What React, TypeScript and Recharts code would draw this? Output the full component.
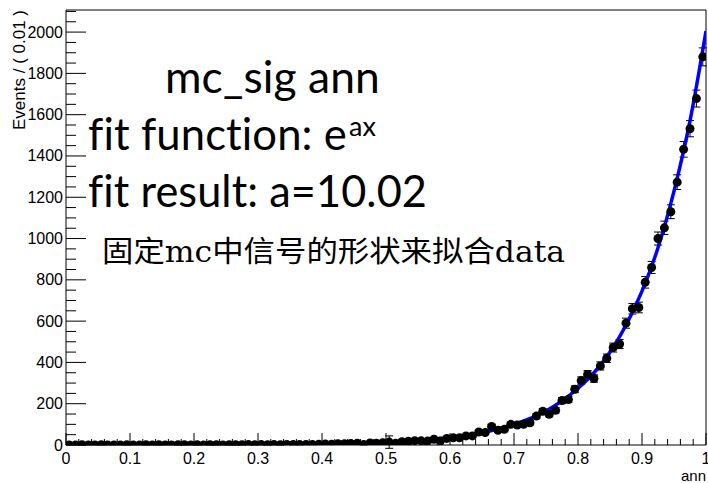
import React from "react";
import { ComposedChart, Scatter, Line, XAxis, YAxis, ErrorBar, ReferenceLine } from "recharts";

const W = 708;
const H = 483;
const Y_MAX = 2107;

// bins of width 0.01 on ann
const binCenters = [
  0.005, 0.015, 0.025, 0.035, 0.045, 0.055, 0.065, 0.075, 0.085, 0.095,
  0.105, 0.115, 0.125, 0.135, 0.145, 0.155, 0.165, 0.175, 0.185, 0.195,
  0.205, 0.215, 0.225, 0.235, 0.245, 0.255, 0.265, 0.275, 0.285, 0.295,
  0.305, 0.315, 0.325, 0.335, 0.345, 0.355, 0.365, 0.375, 0.385, 0.395,
  0.405, 0.415, 0.425, 0.435, 0.445, 0.455, 0.465, 0.475, 0.485, 0.495,
  0.505, 0.515, 0.525, 0.535, 0.545, 0.555, 0.565, 0.575, 0.585, 0.595,
  0.605, 0.615, 0.625, 0.635, 0.645, 0.655, 0.665, 0.675, 0.685, 0.695,
  0.705, 0.715, 0.725, 0.735, 0.745, 0.755, 0.765, 0.775, 0.785, 0.795,
  0.805, 0.815, 0.825, 0.835, 0.845, 0.855, 0.865, 0.875, 0.885, 0.895,
  0.905, 0.915, 0.925, 0.935, 0.945, 0.955, 0.965, 0.975, 0.985, 0.995,
];
const binHalfWidth = 0.005;

const counts = [
  0, 0, 1, 0, 0, 1, 0, 0, 0, 1,
  0, 0, 1, 0, 1, 0, 0, 1, 1, 0,
  1, 0, 1, 1, 0, 1, 1, 1, 2, 1,
  2, 1, 2, 1, 3, 2, 2, 3, 3, 4,
  5, 4, 6, 6, 7, 8, 2, 10, 9, 11,
  14, 8, 16, 18, 21, 20, 19, 28, 19, 32,
  35, 35, 44, 44, 63, 60, 90, 71, 76, 100,
  97, 100, 108, 140, 163, 149, 168, 215, 220, 270,
  312, 342, 322, 383, 420, 472, 489, 590, 660, 666,
  788, 860, 1000, 1052, 1130, 1273, 1432, 1532, 1678, 1880,
];

const errors = [
  0, 0, 1, 0, 0, 1, 0, 0, 0, 1,
  0, 0, 1, 0, 1, 0, 0, 1, 1, 0,
  1, 0, 1, 1, 0, 1, 1, 1, 1.4, 1,
  1.4, 1, 1.4, 1, 1.7, 1.4, 1.4, 1.7, 1.7, 2,
  2.2, 2, 2.4, 2.4, 2.6, 2.8, 1.4, 3.2, 3, 3.3,
  30, 2.8, 4, 4.2, 4.6, 4.5, 4.4, 5.3, 4.4, 5.7,
  5.9, 5.9, 6.6, 6.6, 7.9, 7.7, 9.5, 8.4, 8.7, 10,
  9.8, 10, 10.4, 11.8, 12.8, 12.2, 13, 14.7, 14.8, 16.4,
  17.7, 18.5, 17.9, 19.6, 20.5, 21.7, 22.1, 24.3, 25.7, 25.8,
  28, 29.3, 31.6, 32.4, 33.6, 35.7, 37.8, 39.1, 41, 43.4,
];

// fitted curve
const fitX = [0, 0.1, 0.2, 0.3, 0.4, 0.45, 0.5, 0.55, 0.6, 0.65, 0.7, 0.75, 0.8, 0.825, 0.85, 0.875, 0.9, 0.925, 0.95, 0.975, 1.0];
const fitY = [0.1, 0.2, 0.7, 1.8, 5, 8, 13, 22, 36, 60, 100, 165, 275, 350, 450, 580, 745, 955, 1230, 1570, 2005];

const yTicks = [
  0, 50, 100, 150, 200, 250, 300, 350, 400, 450, 500, 550, 600, 650, 700, 750,
  800, 850, 900, 950, 1000, 1050, 1100, 1150, 1200, 1250, 1300, 1350, 1400, 1450,
  1500, 1550, 1600, 1650, 1700, 1750, 1800, 1850, 1900, 1950, 2000, 2050, 2100,
];
const xTicks = [
  0, 0.02, 0.04, 0.06, 0.08, 0.1, 0.12, 0.14, 0.16, 0.18, 0.2, 0.22, 0.24, 0.26, 0.28,
  0.3, 0.32, 0.34, 0.36, 0.38, 0.4, 0.42, 0.44, 0.46, 0.48, 0.5, 0.52, 0.54, 0.56, 0.58,
  0.6, 0.62, 0.64, 0.66, 0.68, 0.7, 0.72, 0.74, 0.76, 0.78, 0.8, 0.82, 0.84, 0.86, 0.88,
  0.9, 0.92, 0.94, 0.96, 0.98, 1,
];

const points = binCenters.map((x, i) => ({ x, y: counts[i], err: errors[i], xerr: binHalfWidth }));
const fitCurve = fitX.map((x, i) => ({ x, y: fitY[i] }));

const labelFont = "'Liberation Sans', Arial, sans-serif";
const bigFont = "Lato, 'Open Sans', sans-serif";
// no "fi" ligature, like the original slide text
const noLig = { fontVariantLigatures: "none" as const, fontFeatureSettings: "'liga' 0", letterSpacing: "0.1px" };
const Y_MARGIN = 3;

function YTick({ x, y, payload }: any) {
  const v = payload.value;
  const major = v % 200 === 0;
  const ax = x + Y_MARGIN;
  return (
    <g>
      <line x1={ax} x2={ax + (major ? 20 : 10)} y1={y} y2={y} stroke="#000" />
      {major && (
        <text x={x} y={y} textAnchor="end" dominantBaseline="central" fontSize={16} fontFamily={labelFont} fill="#000">
          {v}
        </text>
      )}
    </g>
  );
}

function XTick({ x, y, payload }: any) {
  const v = payload.value;
  const major = Math.abs(v * 10 - Math.round(v * 10)) < 1e-6;
  const label = v === 0 ? "0" : v === 1 ? "1" : v.toFixed(1);
  return (
    <g>
      <line x1={x} x2={x} y1={y} y2={y - (major ? 12 : 6)} stroke="#000" />
      {major && (
        <text x={x} y={y + 19} textAnchor="middle" fontSize={16} fontFamily={labelFont} fill="#000">
          {label}
        </text>
      )}
    </g>
  );
}

const Dot = ({ cx, cy }: any) => <circle cx={cx} cy={cy} r={4.5} fill="#000" />;

export default function App() {
  return (
    <div style={{ position: "absolute", left: 0, top: 0, width: W, height: H, background: "#fff" }}>
      <ComposedChart width={W} height={H} margin={{ top: 10, right: 2, bottom: 0, left: 0 }}>
        <XAxis
          type="number"
          dataKey="x"
          domain={[0, 1]}
          ticks={xTicks}
          interval={0}
          tickSize={0}
          tickMargin={0}
          height={38}
          axisLine={{ stroke: "#000" }}
          tick={<XTick />}
          allowDataOverflow
        />
        <YAxis
          type="number"
          domain={[0, Y_MAX]}
          ticks={yTicks}
          interval={0}
          tickSize={0}
          tickMargin={Y_MARGIN}
          width={66}
          axisLine={{ stroke: "#000" }}
          tick={<YTick />}
          allowDataOverflow
        />
        <ReferenceLine y={Y_MAX} stroke="#000" />
        <ReferenceLine x={1} stroke="#000" />
        <Scatter data={points} dataKey="y" shape={<Dot />} isAnimationActive={false}>
          <ErrorBar dataKey="err" direction="y" width={4} stroke="#000" strokeWidth={1} isAnimationActive={false} />
          <ErrorBar dataKey="xerr" direction="x" width={0} stroke="#000" strokeWidth={1} isAnimationActive={false} />
        </Scatter>
        <Line
          data={fitCurve}
          dataKey="y"
          type="monotone"
          stroke="#0000ff"
          strokeWidth={3.5}
          dot={false}
          activeDot={false}
          isAnimationActive={false}
        />
      </ComposedChart>
      <svg width={W} height={H} style={{ position: "absolute", left: 0, top: 0, pointerEvents: "none" }}>
        <text x={25} y={10} transform="rotate(-90 25 10)" textAnchor="end" fontSize={17} fontFamily={labelFont} fill="#000">
          Events / ( 0.01 )
        </text>
        <text x={706} y={481} textAnchor="end" fontSize={15} fontFamily={labelFont} fill="#000">
          ann
        </text>
        <text x={165} y={93} fontSize={45} fontFamily={bigFont} textLength={215} lengthAdjust="spacingAndGlyphs" fill="#000" style={noLig}>
          mc_sig ann
        </text>
        <text x={88} y={150} fontSize={45} fontFamily={bigFont} textLength={259} lengthAdjust="spacingAndGlyphs" fill="#000" style={noLig}>
          fit function: e
        </text>
        <text x={349} y={136} fontSize={27} fontFamily={bigFont} fill="#000">
          ax
        </text>
        <text x={88} y={207} fontSize={45} fontFamily={bigFont} textLength={339} lengthAdjust="spacingAndGlyphs" fill="#000" style={noLig}>
          fit result: a=10.02
        </text>
        <text
          x={102}
          y={262}
          fontSize={29}
          fontFamily="'DejaVu Serif', 'Noto Sans CJK SC', serif"
          textLength={463}
          lengthAdjust="spacingAndGlyphs"
          fill="#000"
        >
          固定mc中信号的形状来拟合data
        </text>
      </svg>
    </div>
  );
}
